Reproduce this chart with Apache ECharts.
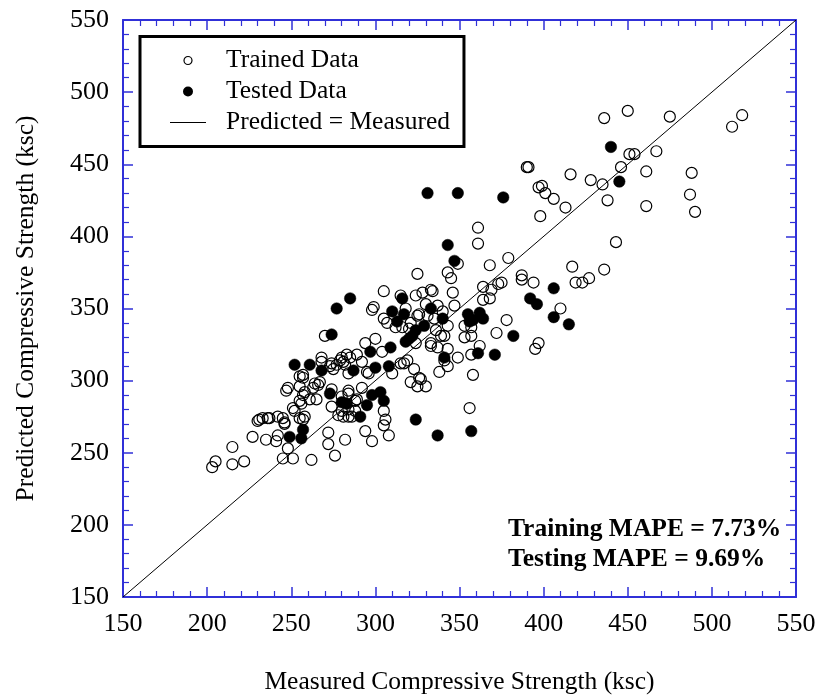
<!DOCTYPE html>
<html><head><meta charset="utf-8">
<script src="https://cdn.jsdelivr.net/npm/echarts@6/dist/echarts.min.js"></script>
<style>html,body{margin:0;padding:0;background:#fff}#chart{width:819px;height:700px}</style>
</head><body><div id="chart"></div>
<script>
// ---------- data ----------
const axisMin = 150, axisMax = 550, axisStep = 50;
const xTitle = 'Measured Compressive Strength (ksc)';
const yTitle = 'Predicted Compressive Strength (ksc)';
const seriesNames = ['Trained Data', 'Tested Data', 'Predicted = Measured'];
const mapeTexts = ['Training MAPE = 7.73%', 'Testing MAPE = 9.69%'];
const equalityLine = [150, 550];

// trained data [measured, predicted]
const trainedUpper = [[436,482],[450,487],[475,483],[512,476],[518,484],[467,459],[451,457],[454,457],[446,448],[416,443],[428,439],[435,436],[461,445],[488,444],[438,425],[413,420],[461,421],[487,429],[490,417],[443,396],[417,379],[436,377],[419,368],[423,368],[427,371],[390,448],[391,448],[397,434],[399,435],[401,430],[406,426],[398,414],[361,406],[361,395],[379,385],[368,380],[325,374],[343,375],[345,371],[349,381]];
const trainedMiddle = [[387,373],[387,370],[394,368],[375,368],[373,367],[369,363],[364,365],[333,363],[328,361],[334,362],[324,359],[305,362],[315,359],[346,361],[364,356],[368,357],[378,342],[410,350],[299,351],[298,349],[347,352],[330,353],[337,352],[340,348],[331,345],[326,346],[305,343],[307,340],[312,337],[316,337],[321,340],[320,336],[318,350],[325,345],[335,343],[343,338],[336,335],[339,331],[341,331],[353,338],[357,337],[353,330],[357,331],[372,333],[270,331],[294,326],[300,329],[304,320],[324,326],[333,326],[333,324],[337,323],[343,322],[349,316],[357,318],[362,324],[292,313],[295,306],[296,305],[310,305],[315,312],[317,312],[319,314],[323,308],[338,306],[343,310],[341,314],[358,304],[326,302],[327,301],[321,299],[325,296],[330,296],[356,281],[397,326],[395,322]];
const trainedLeft = [[268,316],[268,313],[273,310],[277,311],[274,312],[281,313],[279,314],[283,318],[285,316],[289,318],[275,308],[280,316],[282,311],[284,305],[255,303],[257,304],[257,302],[255,296],[248,295],[247,293],[264,298],[266,297],[267,299],[263,295],[258,292],[257,290],[255,286],[256,284],[261,287],[265,287],[274,294],[284,293],[284,291],[292,295],[280,289],[289,287],[251,281],[274,282],[288,286]];
const trainedLower = [[203,240],[205,244],[215,242],[222,244],[215,254],[227,261],[235,259],[241,258],[242,262],[230,272],[231,273],[233,274],[236,274],[237,274],[242,275],[245,274],[246,271],[246,270],[248,253],[245,246],[251,246],[262,245],[272,264],[272,256],[276,248],[282,259],[294,265],[298,258],[305,269],[308,262],[306,273],[305,279],[252,279],[255,274],[258,275],[257,273],[278,276],[281,275],[284,275],[286,275],[288,279],[284,280],[280,279]];

// tested data [measured, predicted]
const testedPoints = [[331,430],[349,430],[376,427],[440,462],[445,438],[343,394],[347,383],[406,364],[392,357],[316,357],[415,339],[382,331],[285,357],[277,350],[310,348],[317,346],[313,341],[333,350],[340,343],[329,338],[324,335],[322,331],[320,329],[318,327],[355,346],[362,347],[364,343],[358,342],[356,341],[274,332],[309,323],[297,320],[341,316],[361,319],[371,318],[252,311],[261,311],[268,307],[287,307],[300,309],[308,310],[273,291],[280,285],[283,284],[303,292],[298,290],[305,286],[295,283],[291,275],[249,261],[257,266],[256,260],[324,273],[337,262],[357,265],[396,353],[406,344]];

// ---------- chart ----------
const FONT = '"Liberation Serif", "Times New Roman", serif';
const BLUE = '#3030d8';
const trainedPoints = trainedUpper.concat(trainedMiddle, trainedLeft, trainedLower);

function axisCommon(pos, showLabel) {
  return {
    type: 'value', min: axisMin, max: axisMax, interval: axisStep, position: pos,
    axisLine: { show: true, onZero: false, lineStyle: { color: BLUE, width: 2 } },
    axisTick: { show: true, inside: true, length: 10, lineStyle: { color: BLUE, width: 1.5 } },
    minorTick: { show: true, splitNumber: 5, length: 6, lineStyle: { color: BLUE, width: 1.2 } },
    splitLine: { show: false },
    axisLabel: { show: showLabel, fontFamily: FONT, fontSize: 26, color: '#000', margin: 14 }
  };
}

const chart = echarts.init(document.getElementById('chart'), null, { renderer: 'canvas' });
const xb = axisCommon('bottom', true);
Object.assign(xb, { name: xTitle, nameLocation: 'middle', nameGap: 72,
  nameTextStyle: { fontFamily: FONT, fontSize: 25.5, color: '#000' } });
const yl = axisCommon('left', true);
Object.assign(yl, { name: yTitle, nameLocation: 'middle', nameGap: 84, nameRotate: 90,
  nameTextStyle: { fontFamily: FONT, fontSize: 25.5, color: '#000' } });

chart.setOption({
  backgroundColor: '#fff',
  animation: false,
  grid: { left: 123, top: 20, width: 673, height: 578, containLabel: false },
  xAxis: [xb, axisCommon('top', false)],
  yAxis: [yl, axisCommon('right', false)],
  legend: {
    orient: 'vertical', left: 140, top: 36.5,
    padding: [11, 14, 11, 30], itemGap: 5, itemWidth: 36, itemHeight: 8,
    borderColor: '#000', borderWidth: 3, borderRadius: 0, backgroundColor: '#fff',
    textStyle: { fontFamily: FONT, fontSize: 25.5, color: '#000', padding: [0, 0, 0, 15] },
    data: [
      { name: seriesNames[0], icon: 'circle', itemStyle: { color: '#fff', borderColor: '#000', borderWidth: 1.2, opacity: 1 } },
      { name: seriesNames[1], icon: 'circle', itemStyle: { color: '#000', borderColor: '#000', opacity: 1 } },
      { name: seriesNames[2], icon: 'path://M0,0L36,0L36,1L0,1Z', itemStyle: { color: '#000', borderWidth: 0, opacity: 1 } }
    ]
  },
  graphic: [
    { type: 'text', left: 508, top: 516, z: 100,
      style: { text: mapeTexts[0], font: 'bold 25.5px ' + FONT, fill: '#000' } },
    { type: 'text', left: 508, top: 546, z: 100,
      style: { text: mapeTexts[1], font: 'bold 25.5px ' + FONT, fill: '#000' } }
  ],
  series: [
    { name: seriesNames[2], type: 'line', data: [[equalityLine[0], equalityLine[0]], [equalityLine[1], equalityLine[1]]],
      symbol: 'none', showSymbol: false, lineStyle: { color: '#000', width: 1 }, itemStyle: { color: '#000' }, z: 1, silent: true },
    { name: seriesNames[0], type: 'scatter', data: trainedPoints, symbol: 'circle', symbolSize: 11,
      itemStyle: { color: 'rgba(255,255,255,0)', borderColor: '#000', borderWidth: 1.2, opacity: 1 }, z: 2 },
    { name: seriesNames[1], type: 'scatter', data: testedPoints, symbol: 'circle', symbolSize: 11.5,
      itemStyle: { color: '#000', borderColor: '#000', borderWidth: 0.5, opacity: 1 }, z: 3 }
  ]
});
</script></body></html>
